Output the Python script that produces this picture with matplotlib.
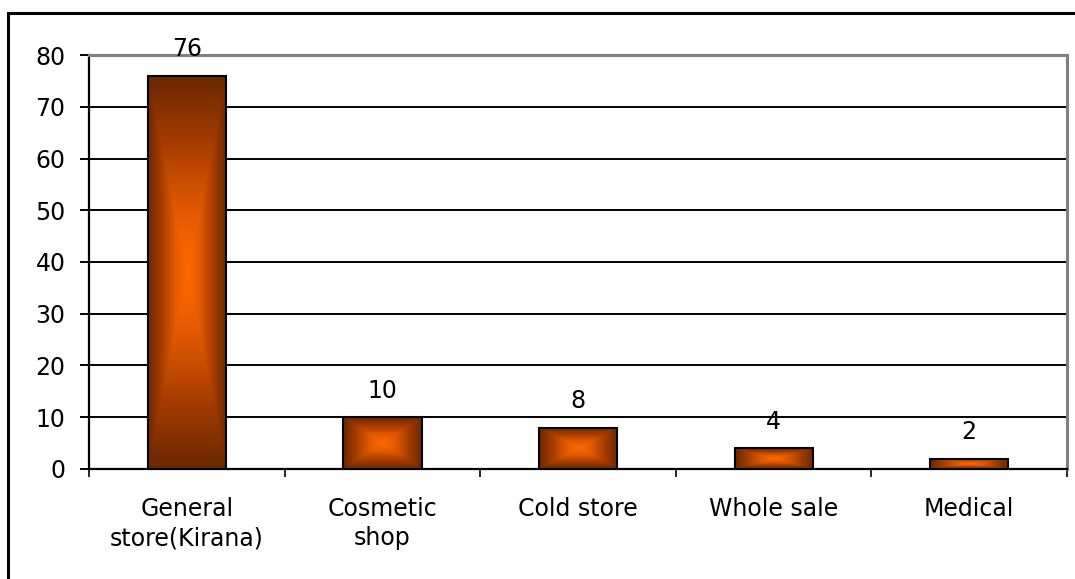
import numpy as np
import matplotlib
matplotlib.use("Agg")
import matplotlib.pyplot as plt
from matplotlib.colors import LinearSegmentedColormap
from matplotlib.patches import Rectangle

# data
categories = ["General\nstore(Kirana)", "Cosmetic\nshop", "Cold store", "Whole sale", "Medical"]
values = [76, 10, 8, 4, 2]
y_ticks = [0, 10, 20, 30, 40, 50, 60, 70, 80]

plt.rcParams['font.family'] = ['DejaVu Sans']

fig = plt.figure(figsize=(10.75, 5.79), dpi=100)
ax = fig.add_axes([0.0828, 0.19, 0.9098, 0.715])

# outer chart frame (only left/top visible in the picture)
fig.patches.append(Rectangle((8 / 1075, -0.1), 1.2, 1 - 13 / 579 + 0.1,
                             transform=fig.transFigure, fill=False,
                             edgecolor='black', linewidth=2.2, zorder=0))

x = np.arange(len(categories))
bars = ax.bar(x, values, width=0.40, facecolor='none', edgecolor='black',
              linewidth=1.5, zorder=4)

# "from center" gradient fill
cmap = LinearSegmentedColormap.from_list(
    "shade", ["#6A2800", "#A43C00", "#E05800", "#FF6A00"])
u = np.linspace(-1, 1, 200)
U, V = np.meshgrid(u, u)
grad = 1 - np.maximum(np.abs(U), np.abs(V))
for b in bars:
    x0, w, h = b.get_x(), b.get_width(), b.get_height()
    ax.imshow(grad, cmap=cmap, extent=(x0, x0 + w, 0, h), aspect='auto',
              zorder=3, interpolation='bilinear')
    ax.annotate(f"{int(h)}", (x0 + w / 2, h), xytext=(0, 19),
                textcoords='offset points', ha='center', va='center',
                fontsize=17)

ax.set_xlim(-0.5, len(categories) - 0.5)
ax.set_ylim(0, 80)

for yv in y_ticks[1:-1]:
    ax.axhline(yv, color='black', linewidth=1.4, zorder=1)

ax.set_yticks(y_ticks)
ax.tick_params(axis='y', length=6.5, width=1.4, pad=10.5, labelsize=17)

# category ticks at boundaries, labels at centers
ax.set_xticks(np.arange(-0.5, len(categories)), minor=False)
ax.set_xticklabels([])
ax.set_xticks(x, minor=True)
ax.set_xticklabels(categories, minor=True, fontsize=17, linespacing=1.3)
ax.tick_params(axis='x', which='major', length=5.5, width=1.2, direction='out')
ax.tick_params(axis='x', which='minor', length=0, pad=20)

for s in ['left', 'bottom']:
    ax.spines[s].set_color('black')
    ax.spines[s].set_linewidth(1.6)
for s in ['top', 'right']:
    ax.spines[s].set_color('#808080')
    ax.spines[s].set_linewidth(2.2)

fig.savefig("out.png", dpi=100)
